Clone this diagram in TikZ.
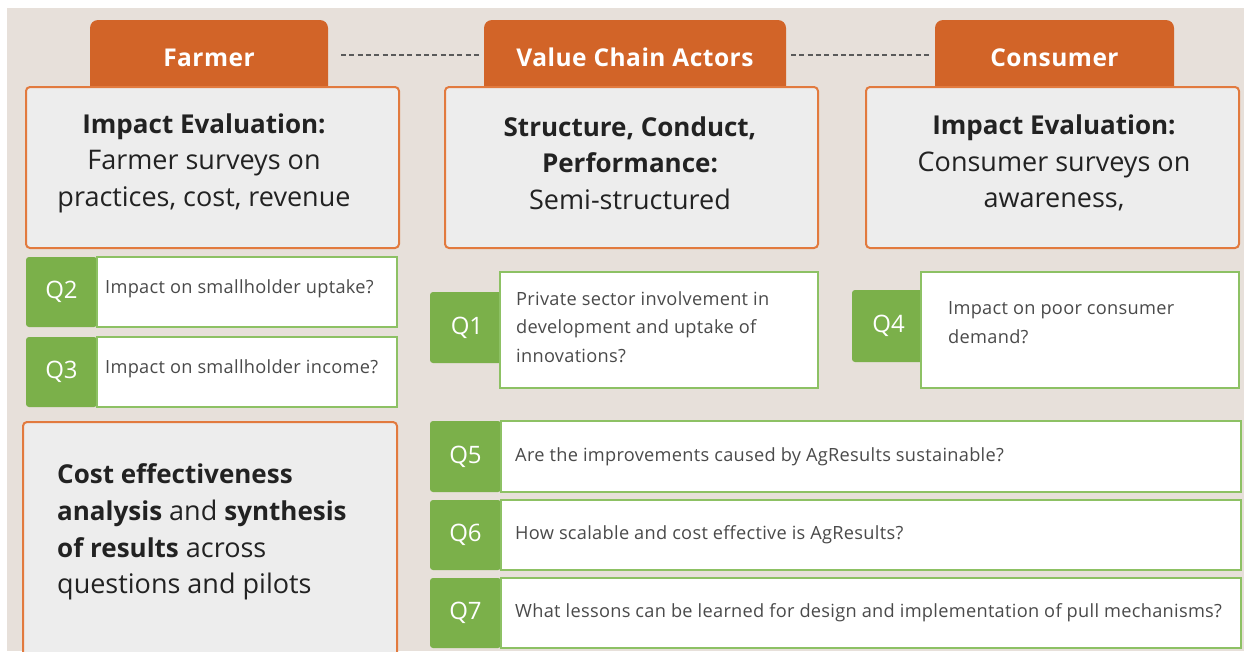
\documentclass[tikz,border=0pt]{standalone}
\usepackage{fontspec}
\setmainfont{Open Sans}
\newfontfamily\tabfamily{Open Sans}[LetterSpace=2]
\newfontfamily\qfamily{Open Sans}[LetterSpace=1.6]
\usetikzlibrary{positioning}
\definecolor{chainbg}{HTML}{E7E0DA}
\definecolor{chainorange}{HTML}{D26428}
\definecolor{chainedge}{HTML}{E27A3E}
\definecolor{chaingrey}{HTML}{EDEDED}
\definecolor{qgreen}{HTML}{7BB04A}
\definecolor{qedge}{HTML}{8DC164}
\definecolor{inkdark}{HTML}{222222}
\definecolor{inkmid}{HTML}{4A4A4A}
\definecolor{dotgrey}{HTML}{5A5A5A}
\newcommand{\tabfont}{\fontsize{24.5}{30}\selectfont\tabfamily\bfseries}
\newcommand{\boxfont}{\fontsize{27}{36.6}\selectfont}
\newcommand{\qfont}{\fontsize{18.2}{28.5}\selectfont\qfamily}
\newcommand{\qtagfont}{\fontsize{24}{28}\selectfont}
\newcommand{\semi}[1]{{\fontsize{26}{36.6}\selectfont\bfseries #1}}
% one question row: green tag on the left, white cell on the right
\newcommand{\qrow}[8]{%
  \node[qtag, minimum width=71pt, minimum height={#5-#3}, anchor=north west] (#1tag) at (#2,#3) {#6};
  \node[qcell, minimum width={#4-#2-71}, minimum height={#5-#3}, anchor=north west] (#1) at (#1tag.north east) {};
  \node[qtext, anchor=west] (#1text) at (#7) {#8};
}
\tikzset{
  actortab/.style={fill=chainorange, rounded corners=8pt, text=white, font=\tabfont, inner sep=0pt, outer sep=0pt},
  methodbox/.style={draw=chainedge, line width=2pt, fill=chaingrey, rounded corners=4pt, inner sep=0pt, outer sep=0pt},
  boxtext/.style={align=center, font=\boxfont, text=inkdark, inner sep=0pt},
  qtag/.style={fill=qgreen, rounded corners=3pt, text=white, font=\qtagfont, inner sep=0pt, outer sep=0pt},
  qcell/.style={draw=qedge, line width=2pt, fill=white, inner sep=0pt, outer sep=0pt},
  qtext/.style={font=\qfont, text=inkmid, align=left, inner sep=0pt},
  dotline/.style={dotgrey, line width=2.5pt, dash pattern=on 5pt off 3.3pt}
}

\begin{document}
\begin{tikzpicture}[x=1pt,y=-1pt]
  \useasboundingbox (0,0) rectangle (1244,651);
  \fill[chainbg] (7,8) rectangle (1244,651);

  % actor tabs and the dotted links between them
  \node[actortab, minimum width=238pt, minimum height=75pt] (farmer) at (209,57.5) {Farmer};
  \node[actortab, minimum width=302pt, minimum height=75pt] (chain) at (635,57.5) {Value Chain Actors};
  \node[actortab, minimum width=239pt, minimum height=75pt] (consumer) at (1054.5,57.5) {Consumer};
  \draw[dotline, shorten <=13pt, shorten >=2pt] ([yshift=2.5pt]farmer.east) -- ([yshift=2.5pt]chain.west);
  \draw[dotline, shorten <=5pt, shorten >=5pt] ([yshift=2.5pt]chain.east) -- ([yshift=2.5pt]consumer.west);

  % methods
  \node[methodbox, minimum width=373pt, minimum height=161pt] (farmerbox) at (212.5,167.5) {};
  \node[boxtext] (farmertext) at (204,163) {\semi{Impact Evaluation:}\\Farmer surveys on\\practices, cost, revenue};
  \node[methodbox, minimum width=373pt, minimum height=161pt] (chainbox) at (631.5,167.5) {};
  \node[boxtext] (chaintext) at (630,163) {\semi{Structure, Conduct,}\\\semi{Performance:}\\Semi-structured};
  \node[methodbox, minimum width=373pt, minimum height=161pt] (consumerbox) at (1052.5,167.5) {};
  \node[boxtext] (consumertext) at (1054,163) {\semi{Impact Evaluation:}\\Consumer surveys on\\awareness,};

  % questions per actor
  \qrow{qtwo}{26}{257}{397}{327}{Q2}{105,289}{Impact on smallholder uptake?}
  \qrow{qthree}{26}{337}{397}{407}{Q3}{105,369}{Impact on smallholder income?}

  \node[qtag, minimum width=74pt, minimum height=71pt, anchor=north west] (qonetag) at (430,292) {Q1};
  \node[qcell, minimum width=318pt, minimum height=116pt, anchor=north west] (qone) at (500,272) {};
  \node[qtext, anchor=west] (qonetext) at (516,327) {Private sector involvement in\\development and uptake of\\innovations?};

  \node[qtag, minimum width=73pt, minimum height=72pt, anchor=north west] (qfourtag) at (852,290) {Q4};
  \node[qcell, minimum width=318pt, minimum height=116pt, anchor=north west] (qfour) at (921,272) {};
  \node[qtext, anchor=west] (qfourtext) at (948,322.5) {Impact on poor consumer\\demand?};

  % synthesis and cross-cutting questions
  \node[methodbox, minimum width=374pt, minimum height=240pt, anchor=north west] (synthbox) at (23,422) {};
  \node[boxtext, align=left, anchor=west] (synthtext) at (57,532)
    {\semi{Cost effectiveness}\\\semi{analysis} and \semi{synthesis}\\\semi{of results} across\\questions and pilots};

  \qrow{qfive}{430}{421}{1241}{492}{Q5}{515,457}{Are the improvements caused by AgResults sustainable?}
  \qrow{qsix}{430}{500}{1241}{570}{Q6}{515,535}{How scalable and cost effective is AgResults?}
  \qrow{qseven}{430}{578}{1241}{648}{Q7}{515,613}{What lessons can be learned for design and implementation of pull mechanisms?}
\end{tikzpicture}
\end{document}
